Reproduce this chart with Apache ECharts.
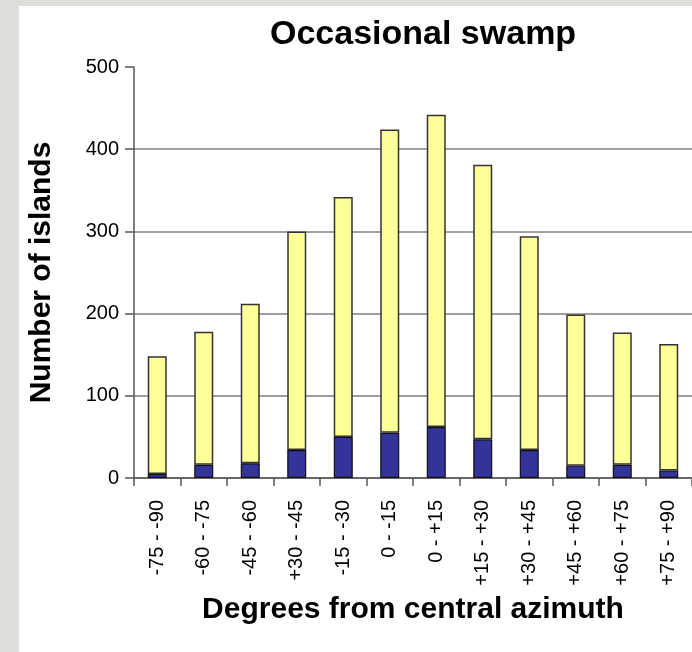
<!DOCTYPE html>
<html>
<head>
<meta charset="utf-8">
<style>
  html, body { margin: 0; padding: 0; width: 692px; height: 652px; background: #dcdeda; overflow: hidden; }
  #panel { position: absolute; left: 19px; top: 6px; right: 0; bottom: 0; background: #ffffff; }
  #main { position: absolute; left: 0; top: 0; width: 692px; height: 652px; }
</style>
</head>
<body>
<div id="panel"></div>
<div id="main"></div>
<script src="https://cdn.jsdelivr.net/npm/echarts@6/dist/echarts.min.js"></script>
<script>
// bins of degrees from the central azimuth (labels as printed)
var bins = ['-75 - -90', '-60 - -75', '-45 - -60', '+30 - -45', '-15 - -30', '0 - -15',
            '0 - +15', '+15 - +30', '+30 - +45', '+45 - +60', '+60 - +75', '+75 - +90'];
// lower (dark blue) part of each bar
var lowerPart = [5, 16, 18, 34, 50, 55, 62, 47, 34, 15, 16, 9];
// upper (pale yellow) part stacked on top
var upperPart = [143, 162, 194, 266, 292, 369, 380, 334, 260, 184, 161, 154];
var yTicks = [0, 100, 200, 300, 400, 500];

var chart = echarts.init(document.getElementById('main'));
var font = 'Liberation Sans, Arial, sans-serif';

var option = {
    animation: false,
    title: {
        text: 'Occasional swamp',
        left: 265,
        top: 13,
        textStyle: { fontFamily: font, fontSize: 34, fontWeight: 'bold', color: '#000' }
    },
    grid: { left: 134, right: -10, top: 67, bottom: 174 },
    xAxis: {
        type: 'category',
        data: bins,
        name: 'Degrees from central azimuth',
        nameLocation: 'middle',
        nameGap: 117,
        nameTextStyle: { fontFamily: font, fontSize: 30, fontWeight: 'bold', color: '#000' },
        axisLine: { lineStyle: { color: '#555', width: 1.5 } },
        axisTick: { show: true, alignWithLabel: false, interval: 0, length: 8, lineStyle: { color: '#555', width: 1.5 } },
        axisLabel: { rotate: 90, interval: 0, margin: 22, fontFamily: font, fontSize: 20, color: '#000' }
    },
    yAxis: {
        type: 'value',
        min: yTicks[0],
        max: yTicks[yTicks.length - 1],
        interval: 100,
        name: 'Number of islands',
        nameLocation: 'middle',
        nameGap: 77,
        nameTextStyle: { fontFamily: font, fontSize: 30, fontWeight: 'bold', color: '#000' },
        axisLine: { show: true, lineStyle: { color: '#555', width: 1.5 } },
        axisTick: { show: true, length: 9, lineStyle: { color: '#555', width: 1.5 } },
        axisLabel: { margin: 15, fontFamily: font, fontSize: 20, color: '#000' },
        splitLine: { show: true, showMaxLine: false, lineStyle: { color: '#808080', width: 1.5 } }
    },
    series: [
        {
            name: 'lower',
            type: 'bar',
            stack: 'total',
            barWidth: 19,
            data: lowerPart,
            itemStyle: { color: '#333399', borderColor: '#111', borderWidth: 1.2 }
        },
        {
            name: 'upper',
            type: 'bar',
            stack: 'total',
            barWidth: 19,
            data: upperPart,
            itemStyle: { color: '#ffff99', borderColor: '#333', borderWidth: 1.5 }
        }
    ]
};
chart.setOption(option);
</script>
</body>
</html>
